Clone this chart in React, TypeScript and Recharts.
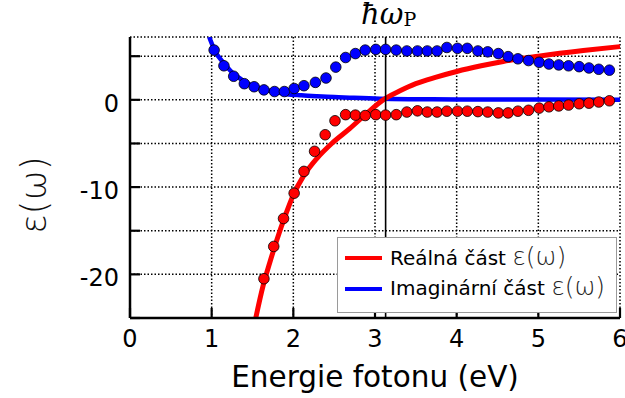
import React from "react";
import {
  ComposedChart,
  Line,
  Scatter,
  XAxis,
  YAxis,
  CartesianGrid,
  ReferenceLine,
  Legend,
} from "recharts";

// measured points (dots)
const realDotE = [1.64, 1.76, 1.88, 2.01, 2.13, 2.26, 2.39, 2.51, 2.64, 2.76, 2.88, 3.01, 3.13, 3.26, 3.39, 3.52, 3.64, 3.76, 3.88, 4.01, 4.13, 4.26, 4.38, 4.51, 4.63, 4.75, 4.88, 5.01, 5.13, 5.25, 5.37, 5.5, 5.62, 5.74, 5.87];
const realDotV = [-20.5, -16.8, -13.6, -10.7, -8.2, -5.9, -4.0, -2.4, -1.7, -1.75, -1.8, -1.7, -1.75, -1.7, -1.4, -1.26, -1.4, -1.4, -1.3, -1.3, -1.3, -1.35, -1.4, -1.5, -1.5, -1.3, -1.2, -0.95, -0.8, -0.7, -0.6, -0.45, -0.38, -0.25, -0.11];

const imagDotE = [1.03, 1.15, 1.27, 1.4, 1.52, 1.64, 1.77, 1.89, 2.01, 2.13, 2.27, 2.4, 2.52, 2.64, 2.76, 2.88, 3.01, 3.13, 3.26, 3.39, 3.52, 3.64, 3.76, 3.88, 4.01, 4.13, 4.26, 4.38, 4.51, 4.63, 4.75, 4.88, 5.01, 5.13, 5.25, 5.37, 5.5, 5.62, 5.74, 5.87];
const imagDotV = [5.7, 3.9, 2.7, 1.85, 1.5, 1.14, 0.95, 0.95, 1.3, 1.62, 2.0, 2.5, 3.75, 4.85, 5.3, 5.7, 5.78, 5.78, 5.7, 5.6, 5.6, 5.6, 5.6, 6.0, 5.9, 5.9, 5.6, 5.5, 5.3, 4.95, 4.7, 4.5, 4.3, 4.1, 4.0, 3.9, 3.8, 3.65, 3.5, 3.4];

// model curves (lines)
const realLineE = [1.54, 1.63, 1.71, 1.8, 1.9, 2.0, 2.12, 2.29, 2.47, 2.69, 2.9, 3.1, 3.3, 3.5, 3.75, 4.0, 4.3, 4.57, 5.0, 5.55, 6.0];
const realLineV = [-25, -21.3, -18.7, -16.0, -13.3, -10.9, -8.8, -6.7, -5.0, -3.3, -1.55, 0.0, 1.0, 1.85, 2.6, 3.25, 3.9, 4.4, 5.0, 5.65, 6.1];

const imagLineE = [0.97, 1.04, 1.15, 1.26, 1.37, 1.47, 1.57, 1.67, 1.8, 1.92, 2.1, 2.29, 2.5, 2.69, 3.06, 3.5, 4.0, 5.0, 6.0];
const imagLineV = [7.2, 5.6, 4.2, 3.05, 2.3, 1.75, 1.4, 1.14, 0.85, 0.65, 0.52, 0.42, 0.33, 0.25, 0.12, 0.07, 0.05, 0.03, 0.02];

const xTicks = [0, 1, 2, 3, 4, 5, 6];
const yTicks = [-25, -20, -15, -10, -5, 0, 5];
const yLabelled = [-20, -10, 0];
const xDomain = [0, 6];
const yDomain = [-25, 7.2];
const plasmaE = 3.13;

const legendNames = ["Reálná část", "Imaginární část"];
const legendColors = ["#ff0000", "#0000ff"];

const zip = (e: number[], v: number[]) => e.map((x, i) => ({ x, y: v[i] }));
const realDots = zip(realDotE, realDotV);
const imagDots = zip(imagDotE, imagDotV);
const realLine = zip(realLineE, realLineV);
const imagLine = zip(imagLineE, imagLineV);

const FONT = "DejaVu Sans";
const TICK = 10; // inward tick length in px

const dotShape = (color: string) => (p: any) =>
  <circle cx={p.cx} cy={p.cy} r={5.3} fill={color} stroke="#000" strokeWidth={0.8} />;

// with tickSize = -TICK and tickMargin = 0, (x, y) is the inner end of the tick
const BottomTick = (p: any) => (
  <g>
    <line x1={p.x} x2={p.x} y1={p.y} y2={p.y + TICK} stroke="#000" strokeWidth={2.2} />
    <text x={p.x} y={p.y + 39} textAnchor="middle" fontSize={24} fontFamily={FONT} fill="#000">
      {p.payload.value}
    </text>
  </g>
);

const TopTick = (p: any) => (
  <line x1={p.x} x2={p.x} y1={p.y} y2={p.y - TICK} stroke="#000" strokeWidth={2.2} />
);

const LeftTick = (p: any) => {
  const v = p.payload.value;
  return (
    <g>
      <line x1={p.x} x2={p.x - TICK} y1={p.y} y2={p.y} stroke="#000" strokeWidth={2.2} />
      {yLabelled.includes(v) && (
        <text x={p.x - 21} y={p.y + 12} textAnchor="end" fontSize={24} fontFamily={FONT} fill="#000">
          {String(v)}
        </text>
      )}
    </g>
  );
};

const RightTick = (p: any) => (
  <line x1={p.x} x2={p.x + TICK} y1={p.y} y2={p.y} stroke="#000" strokeWidth={2.2} />
);

const YLabel = () => (
  <text x={33} y={195} transform="rotate(-90 33 195)" textAnchor="middle" dominantBaseline="central"
    fontSize={36} fontFamily={FONT} fontWeight={300} fill="#111">
    ε(ω)
  </text>
);

const PlasmaLabel = (props: any) => {
  const x = props.viewBox ? props.viewBox.x : 385;
  return (
    <text x={x + 3} y={24} textAnchor="middle" fontFamily="DejaVu Serif" fontSize={29} fill="#000">
      <tspan fontStyle="italic">ħω</tspan>
      <tspan fontSize={19} dy={2}>P</tspan>
    </text>
  );
};

const LegendBox = () => (
  <svg width={280} height={76} style={{ display: "block" }}>
    <rect x={0.5} y={0.5} width={279} height={75} fill="#fff" stroke="#9a9a9a" strokeWidth={1} />
    {legendNames.map((name, i) => (
      <g key={name}>
        <line x1={8} x2={45} y1={21 + i * 31} y2={21 + i * 31} stroke={legendColors[i]} strokeWidth={4} />
        <text x={53} y={28 + i * 30} fontSize={20} fontFamily={FONT} fill="#000">
          {name}{" "}
          <tspan fontSize={25} fontWeight={300} fill="#222">ε(ω)</tspan>
        </text>
      </g>
    ))}
  </svg>
);

const axisLine = { stroke: "#000", strokeWidth: 2.5 };

export default function App() {
  return (
    <div style={{ position: "absolute", left: 0, top: 0, width: 625, height: 398, background: "#fff", fontFamily: FONT }}>
      <ComposedChart width={625} height={398} margin={{ top: 37, right: 5, bottom: 0, left: 0 }}>
        <CartesianGrid stroke="#000" strokeWidth={1.5} strokeDasharray="1.5 2" />
        <XAxis
          dataKey="x"
          type="number"
          domain={xDomain}
          ticks={xTicks}
          interval={0}
          height={80}
          allowDataOverflow
          axisLine={axisLine}
          tickLine={false}
          tickSize={-TICK}
          tickMargin={0}
          tick={BottomTick}
          label={{ value: "Energie fotonu (eV)", position: "insideBottom", offset: 11, fontSize: 29.5, fill: "#000", fontFamily: FONT }}
        />
        <XAxis
          xAxisId="top"
          orientation="top"
          type="number"
          domain={xDomain}
          ticks={xTicks}
          interval={0}
          height={0}
          allowDataOverflow
          axisLine={axisLine}
          tickLine={false}
          tickSize={-TICK}
          tickMargin={0}
          tick={TopTick}
        />
        <YAxis
          type="number"
          domain={yDomain}
          ticks={yTicks}
          interval={0}
          width={130}
          allowDataOverflow
          axisLine={axisLine}
          tickLine={false}
          tickSize={-TICK}
          tickMargin={0}
          tick={LeftTick}
          label={<YLabel />}
        />
        <YAxis
          yAxisId="right"
          orientation="right"
          type="number"
          domain={yDomain}
          ticks={yTicks}
          interval={0}
          width={0}
          allowDataOverflow
          axisLine={axisLine}
          tickLine={false}
          tickSize={-TICK}
          tickMargin={0}
          tick={RightTick}
        />
        <Legend
          verticalAlign="middle"
          align="center"
          layout="horizontal"
          content={<LegendBox />}
          wrapperStyle={{ left: 337, top: 237, width: 280, height: 76 }}
        />
        <Line data={imagLine} dataKey="y" type="monotone" stroke="#0000ff" strokeWidth={4.5} dot={false} isAnimationActive={false} legendType="none" />
        <Scatter data={imagDots} dataKey="y" shape={dotShape("#0000ff")} isAnimationActive={false} legendType="none" />
        <Line data={realLine} dataKey="y" type="monotone" stroke="#ff0000" strokeWidth={5} dot={false} isAnimationActive={false} legendType="none" />
        <Scatter data={realDots} dataKey="y" shape={dotShape("#ff0000")} isAnimationActive={false} legendType="none" />
        <ReferenceLine x={plasmaE} stroke="#000" strokeWidth={1.6} label={<PlasmaLabel />} />
      </ComposedChart>
    </div>
  );
}
